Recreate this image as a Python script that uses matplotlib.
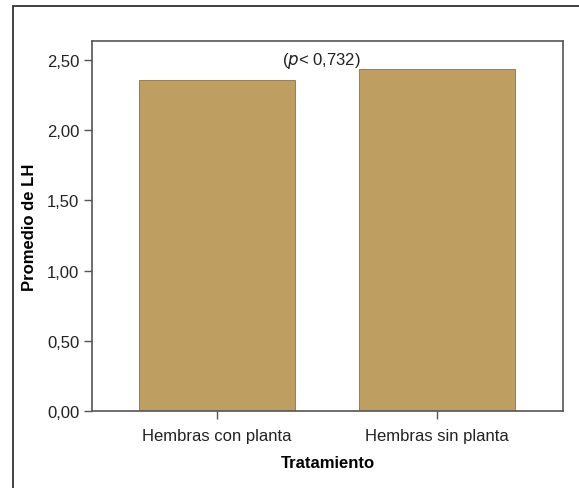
import matplotlib
matplotlib.use("Agg")
import matplotlib.pyplot as plt
from matplotlib.patches import Rectangle
from matplotlib.ticker import FixedLocator, FuncFormatter

plt.rcParams['font.family'] = ['Liberation Sans', 'DejaVu Sans']

# data
categories = ["Hembras con planta", "Hembras sin planta"]
means = [2.357, 2.436]
y_ticks = [0.0, 0.5, 1.0, 1.5, 2.0, 2.5]

bar_color = "#BF9E62"
edge_color = "#8C7240"
spine_color = "#555555"

fig = plt.figure(figsize=(5.79, 4.89), dpi=100)
W, H = 579, 489

# outer frame (only top and left visible in the crop)
fig.patches.append(Rectangle((13 / W, -0.1), 1.2, 1 - 7 / H + 0.1, transform=fig.transFigure,
                             fill=False, edgecolor="#333333", linewidth=1.3))

ax = fig.add_axes([92 / W, 1 - 412 / H, (563 - 92) / W, (412 - 42) / H])
x = list(range(len(categories)))
ax.bar(x, means, width=0.71, color=bar_color, edgecolor=edge_color, linewidth=0.6)

ax.set_xlim(-0.568, 1.573)
ax.set_ylim(0, 2.635)
ax.yaxis.set_major_locator(FixedLocator(y_ticks))
ax.yaxis.set_major_formatter(FuncFormatter(lambda v, p: f"{v:.2f}".replace(".", ",")))
ax.set_xticks(x)
ax.set_xticklabels(categories)

for s in ax.spines.values():
    s.set_color(spine_color)
    s.set_linewidth(1.2)
ax.tick_params(axis='both', colors=spine_color, labelcolor="#222222", labelsize=12, length=6, width=1)
ax.tick_params(axis='y', pad=3)
ax.tick_params(axis='x', pad=6)

ax.set_ylabel("Promedio de LH", fontsize=12, fontweight='bold', labelpad=7)
ax.set_xlabel("Tratamiento", fontsize=12, fontweight='bold', labelpad=9)

ax.text(0.475, 2.50, r"($\it{p}$< 0,732)", ha='center', va='center', fontsize=12, color="#222222")

fig.savefig("out.png", dpi=100)
